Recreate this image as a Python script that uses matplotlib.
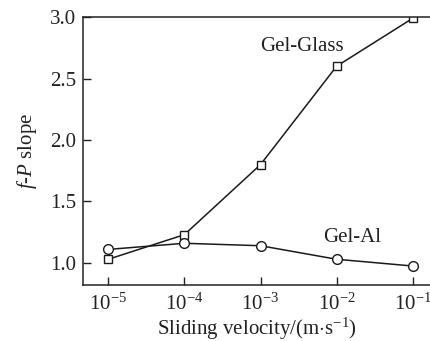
import matplotlib
matplotlib.use('Agg')
import matplotlib.pyplot as plt

# Datos
velocidad = [1e-5, 1e-4, 1e-3, 1e-2, 1e-1]
gel_glass = [1.03, 1.23, 1.80, 2.60, 2.99]
gel_al = [1.11, 1.16, 1.14, 1.03, 0.975]

plt.rcParams['font.family'] = 'Liberation Serif'
plt.rcParams['mathtext.fontset'] = 'custom'
plt.rcParams['mathtext.rm'] = 'Liberation Serif'
plt.rcParams['mathtext.it'] = 'Liberation Serif:italic'

fig = plt.figure(figsize=(4.31, 3.41), dpi=100)
ax = fig.add_axes([0.193, 0.164, 0.807, 0.786])

ax.plot(velocidad, gel_glass, color='#1a1a1a', lw=1.1, marker='s', ms=5.5,
        mfc='white', mec='#1a1a1a', mew=1.0)
ax.plot(velocidad, gel_al, color='#1a1a1a', lw=1.1, marker='o', ms=7,
        mfc='white', mec='#1a1a1a', mew=1.0)

ax.set_xscale('log')
ax.set_xlim(10 ** -5.33, 10 ** -0.76)
ax.set_ylim(0.82, 3.0)
ax.set_xticks(velocidad)
ax.minorticks_off()
ax.set_yticks([1.0, 1.5, 2.0, 2.5, 3.0])
ax.set_yticklabels(['1.0', '1.5', '2.0', '2.5', '3.0'])
ax.tick_params(direction='in', length=6, width=1, labelsize=15, colors='#222222')
ax.tick_params(axis='x', pad=6)
ax.tick_params(axis='y', pad=5)

for s in ['left', 'bottom', 'top']:
    ax.spines[s].set_linewidth(1.1)
    ax.spines[s].set_color('#222222')
ax.spines['right'].set_visible(False)

ax.text(10 ** -2.45, 2.76, 'Gel-Glass', fontsize=15, ha='center', va='center', color='#222222')
ax.text(10 ** -1.8, 1.21, 'Gel-Al', fontsize=15, ha='center', va='center', color='#222222')

ax.set_xlabel('Sliding velocity/(m$\\cdot$s$^{-1}$)', fontsize=15, color='#222222', labelpad=1)
ax.set_ylabel('$\\mathit{f}$-$\\mathit{P}$ slope', fontsize=15, color='#222222', labelpad=8)

fig.savefig('out.png', dpi=100)
